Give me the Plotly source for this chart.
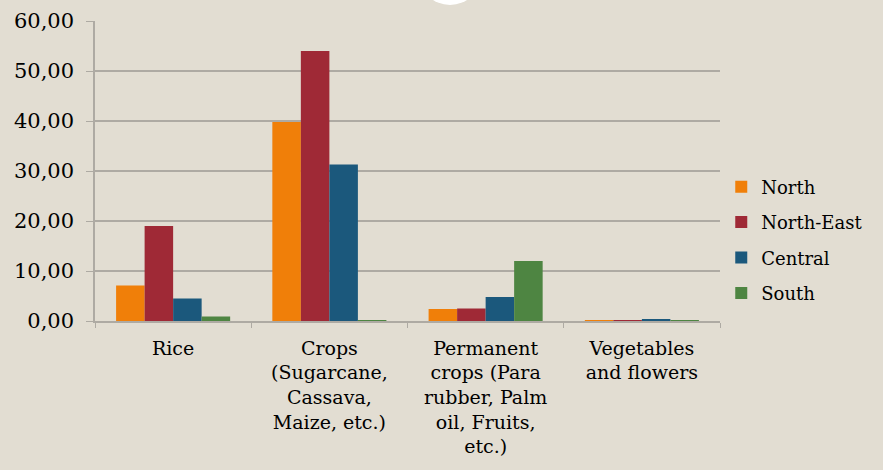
import plotly.graph_objects as go

categories = [
    "Rice",
    "Crops<br>(Sugarcane,<br>Cassava,<br>Maize, etc.)",
    "Permanent<br>crops (Para<br>rubber, Palm<br>oil, Fruits,<br>etc.)",
    "Vegetables<br>and flowers",
]
north = [7.1, 39.8, 2.4, 0.1]
north_east = [19.0, 54.0, 2.5, 0.1]
central = [4.5, 31.3, 4.8, 0.3]
south = [0.9, 0.2, 12.0, 0.1]

series = [
    ("North", north, "#f07f09"),
    ("North-East", north_east, "#9f2936"),
    ("Central", central, "#1b587c"),
    ("South", south, "#4e8542"),
]

BG = "#e2ddd2"
GRID = "#aeaaa3"
FONT = "DejaVu Serif"

fig = go.Figure()
for name, vals, col in series:
    fig.add_trace(go.Bar(
        name=name, x=categories, y=vals, legendgroup=name,
        marker=dict(color=col, line=dict(width=0)),
    ))

fig.update_layout(
    width=883, height=470,
    paper_bgcolor=BG, plot_bgcolor=BG,
    margin=dict(l=95, r=163, t=21, b=149, autoexpand=False),
    barmode="group", bargap=0.27, bargroupgap=0,
    separators=",.",
    font=dict(family=FONT, size=18, color="#000000"),
    legend=dict(
        x=1.002, y=0.27, xanchor="left", yanchor="middle",
        font=dict(size=18), bgcolor="rgba(0,0,0,0)",
        tracegroupgap=9, traceorder="grouped", itemwidth=30,
    ),
    showlegend=True,
)

fig.update_yaxes(
    range=[0, 60], dtick=10, tickformat=".2f",
    showgrid=True, gridcolor=GRID, gridwidth=1.5,
    showline=True, linecolor=GRID, linewidth=1.5,
    ticks="outside", ticklen=7, tickcolor=GRID,
    tickfont=dict(size=21), zeroline=False, ticklabelstandoff=8,
)
fig.update_xaxes(
    showline=True, linecolor=GRID, linewidth=1.5,
    ticks="outside", tickson="boundaries", ticklen=5, tickcolor=GRID,
    tickfont=dict(size=19), tickangle=0, ticklabelstandoff=9,
)

# white circle peeking from the top edge
fig.add_shape(
    type="circle", xref="paper", yref="paper",
    x0=(450 - 31.4 - 95) / 625, x1=(450 + 31.4 - 95) / 625,
    y0=(321 - 5) / 300, y1=(321 + 57.8) / 300,
    fillcolor="white", line=dict(width=0), layer="above",
)

fig.write_html(
    "out.html",
    config={"displayModeBar": False},
    post_script="document.body.style.margin='0';document.body.style.background='%s';" % BG,
)
